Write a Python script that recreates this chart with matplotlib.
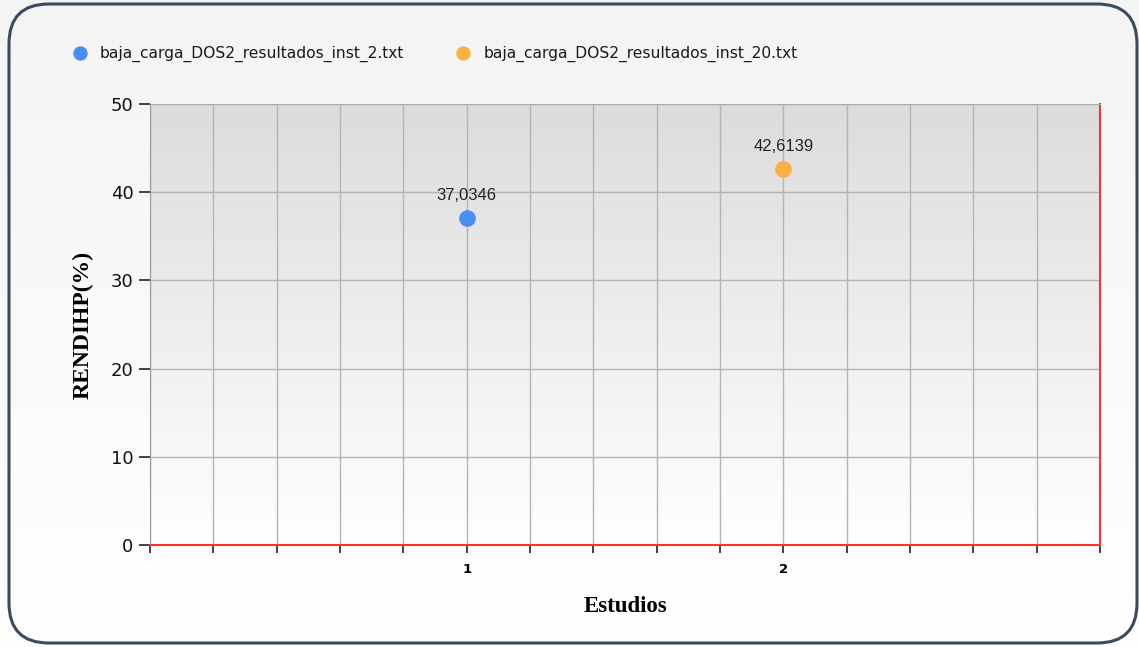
import numpy as np
import matplotlib
matplotlib.use("Agg")
import matplotlib.pyplot as plt
from matplotlib.patches import FancyBboxPatch
from matplotlib.ticker import MultipleLocator

series_names = ["baja_carga_DOS2_resultados_inst_2.txt", "baja_carga_DOS2_resultados_inst_20.txt"]
x_values = [1, 2]
y_values = [37.0346, 42.6139]
point_labels = ["37,0346", "42,6139"]
colors = ["#4a8ef2", "#fbb03f"]

fig = plt.figure(figsize=(11.39, 6.47), dpi=100)
fig.patch.set_facecolor("white")

bg = fig.add_axes([0, 0, 1, 1], zorder=-10)
grad = np.linspace(0, 1, 256).reshape(-1, 1)
bg.imshow(grad, aspect="auto", cmap=matplotlib.colors.LinearSegmentedColormap.from_list("b", ["#f4f4f4", "#ffffff"]),
          extent=[0, 1, 0, 1], origin="upper")
bg.set_axis_off()
border = FancyBboxPatch((9/1139, 4/647), (1139-9-2)/1139, (645-6)/647,
                        boxstyle="round,pad=0,rounding_size=0.035", transform=fig.transFigure,
                        fill=False, edgecolor="#3b4a60", linewidth=2.2, mutation_aspect=1139/647)
fig.patches.append(border)

ax = fig.add_axes([150/1139, 1-545/647, 950/1139, 441/647])
ax.imshow(grad, aspect="auto", cmap=matplotlib.colors.LinearSegmentedColormap.from_list("g", ["#dcdcdc", "#ffffff"]),
          extent=[0, 3, 0, 50], origin="upper", zorder=0)
ax.set_xlim(0, 3)
ax.set_ylim(0, 50)

xt = np.arange(0, 3.0001, 0.2)
ax.set_xticks(xt)
ax.set_xticklabels(["1" if abs(t-1) < 1e-6 else ("2" if abs(t-2) < 1e-6 else "") for t in xt])
ax.yaxis.set_major_locator(MultipleLocator(10))
ax.grid(True, color="#b4b4b4", linewidth=1, zorder=1)
ax.set_axisbelow(True)

for i in range(len(x_values)):
    ax.plot([x_values[i]], [y_values[i]], "o", color=colors[i], markersize=11, zorder=5, label=series_names[i], clip_on=False)
    ax.annotate(point_labels[i], (x_values[i], y_values[i]), xytext=(0, 11), textcoords="offset points",
                ha="center", va="bottom", fontsize=12, family="Liberation Sans", color="#222222")

ax.spines["left"].set_color("#999999")
ax.spines["top"].set_color("#aaaaaa")
ax.spines["right"].set_color("#ff3030")
ax.spines["bottom"].set_color("#ff3030")
ax.spines["right"].set_linewidth(1.5)
ax.spines["bottom"].set_linewidth(1.5)
ax.tick_params(axis="y", direction="out", length=8, width=1.3, color="#333333", labelsize=13, pad=4)
ax.tick_params(axis="x", direction="out", length=6, width=1.3, color="#333333", labelsize=9.5, pad=7)
for lbl in ax.get_yticklabels():
    lbl.set_family("DejaVu Sans")
    lbl.set_color("#111111")
for lbl in ax.get_xticklabels():
    lbl.set_fontweight("bold")

ax.set_ylabel("RENDIHP(%)", family="Liberation Serif", fontweight="bold", fontsize=17, labelpad=12)
ax.set_xlabel("Estudios", family="Liberation Serif", fontweight="bold", fontsize=16.5, labelpad=14)

leg = fig.legend(loc="upper left", bbox_to_anchor=(58/1139, 1-32/647), ncol=2, frameon=False,
                 prop={"family": "DejaVu Sans", "size": 11.2}, handletextpad=0.8, columnspacing=3.3,
                 markerscale=0.85, handlelength=1.0)
for t in leg.get_texts():
    t.set_color("#1a1a1a")

fig.savefig("out.png", dpi=100)
